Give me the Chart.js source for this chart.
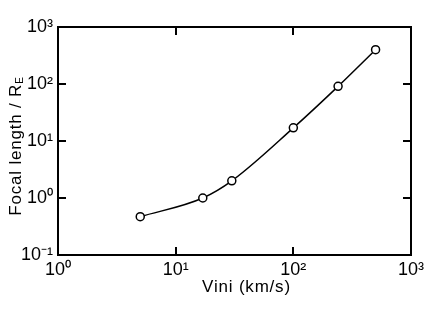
<!DOCTYPE html>
<html>
<head>
<meta charset="utf-8">
<script src="https://cdn.jsdelivr.net/npm/chart.js@4.4.0/dist/chart.umd.min.js"></script>
<style>
  html, body { margin: 0; padding: 0; background: #fff; }
  #wrap { width: 436px; height: 312px; }
</style>
</head>
<body>
<div id="wrap"><canvas id="focal-chart" width="436" height="312"></canvas></div>
<script>
// Focal length vs initial velocity (log-log)
const vini = [5, 17, 30, 100, 240, 500];
const focalLength = [0.47, 1.0, 2.0, 17, 91, 400];

const xTicks = [1, 10, 100, 1000];
const yTicks = [0.1, 1, 10, 100, 1000];

const xTitle = 'Vini (km/s)';
const yTitle = 'Focal length / R';
const yTitleSub = 'E';

const FONT = '"Liberation Sans", Arial, sans-serif';

// 10^n labels with unicode superscripts
const SUP = { '-': '\u207B', '0': '\u2070', '1': '\u00B9', '2': '\u00B2', '3': '\u00B3' };
function decadeLabel(v) {
  const exp = Math.round(Math.log10(v));
  return '10' + String(exp).split('').map(c => SUP[c]).join('');
}

// frame with inward ticks on all four sides, plus axis titles
const framePlugin = {
  id: 'frame',
  afterDraw(chart) {
    const { ctx, chartArea: a, scales } = chart;
    ctx.save();
    ctx.strokeStyle = '#000';
    ctx.lineWidth = 2;
    ctx.strokeRect(a.left, a.top, a.right - a.left, a.bottom - a.top);

    ctx.beginPath();
    xTicks.slice(1, -1).forEach(v => {
      const px = Math.round(scales.x.getPixelForValue(v));
      ctx.moveTo(px, a.bottom); ctx.lineTo(px, a.bottom - 8);
      ctx.moveTo(px, a.top); ctx.lineTo(px, a.top + 8);
    });
    yTicks.slice(1, -1).forEach(v => {
      const py = Math.round(scales.y.getPixelForValue(v));
      ctx.moveTo(a.left, py); ctx.lineTo(a.left + 8, py);
      ctx.moveTo(a.right, py); ctx.lineTo(a.right - 8, py);
    });
    ctx.stroke();

    // titles
    ctx.fillStyle = '#000';
    ctx.textBaseline = 'middle';
    ctx.textAlign = 'center';
    ctx.letterSpacing = '0.8px';
    ctx.font = '17px ' + FONT;
    ctx.fillText(xTitle, (a.left + a.right) / 2 + 12, a.bottom + 32);

    ctx.translate(16, (a.top + a.bottom) / 2 + 5);
    ctx.rotate(-Math.PI / 2);
    ctx.font = '17px ' + FONT;
    const w = ctx.measureText(yTitle).width;
    ctx.font = '10px ' + FONT;
    const ws = ctx.measureText(yTitleSub).width;
    const start = -(w + ws) / 2;
    ctx.textAlign = 'left';
    ctx.font = '17px ' + FONT;
    ctx.fillText(yTitle, start, 0);
    ctx.font = '10px ' + FONT;
    ctx.fillText(yTitleSub, start + w, 4);
    ctx.restore();
  }
};

const ctx = document.getElementById('focal-chart');
ctx.chart = new Chart(ctx, {
  type: 'scatter',
  data: {
    datasets: [{
      data: vini.map((v, i) => ({ x: v, y: focalLength[i] })),
      showLine: true,
      cubicInterpolationMode: 'monotone',
      borderColor: '#000',
      borderWidth: 1.5,
      pointRadius: 4,
      pointBorderWidth: 1.5,
      pointBorderColor: '#000',
      pointBackgroundColor: '#fff',
      clip: false
    }]
  },
  options: {
    responsive: false,
    animation: false,
    layout: { padding: { left: 0, top: 27, right: 25, bottom: 0 } },
    plugins: {
      legend: { display: false },
      tooltip: { enabled: false }
    },
    scales: {
      x: {
        type: 'logarithmic',
        min: 1,
        max: 1000,
        grid: { display: false, drawTicks: false },
        border: { display: false },
        afterBuildTicks: s => { s.ticks = xTicks.map(v => ({ value: v })); },
        afterFit: s => { s.height = 57; },
        ticks: {
          autoSkip: false,
          maxRotation: 0,
          padding: 4,
          color: '#000',
          font: { family: FONT, size: 18 },
          callback: v => decadeLabel(v)
        }
      },
      y: {
        type: 'logarithmic',
        min: 0.1,
        max: 1000,
        grid: { display: false, drawTicks: false },
        border: { display: false },
        afterBuildTicks: s => { s.ticks = yTicks.map(v => ({ value: v })); },
        afterFit: s => { s.width = 58; },
        ticks: {
          autoSkip: false,
          padding: 5,
          color: '#000',
          font: { family: FONT, size: 18 },
          callback: v => decadeLabel(v)
        }
      }
    }
  },
  plugins: [framePlugin]
});
</script>
</body>
</html>
